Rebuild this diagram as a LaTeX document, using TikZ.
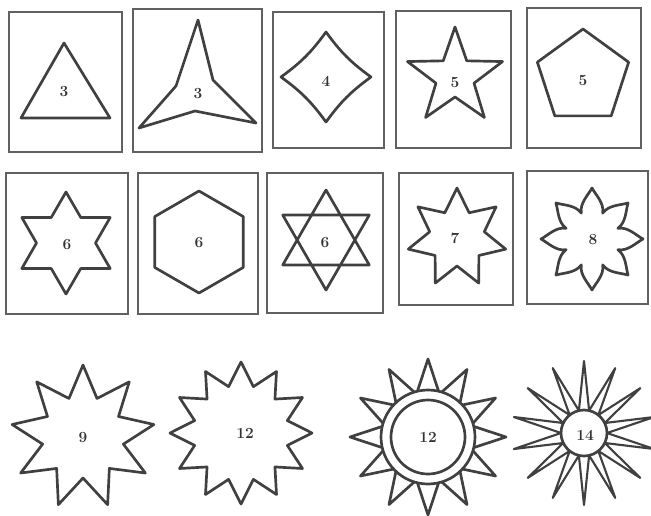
\documentclass[tikz,border=0pt]{standalone}
\tikzset{
  card/.style={draw=black!62, line width=1pt},
  figline/.style={draw=black!75, line width=1.9pt, line join=round},
  num/.style={font=\bfseries\fontsize{11}{12}\selectfont, text=black!80, inner sep=1pt},
}
\newcommand{\starpath}[3]{(-90:#2) \foreach \k in {1,...,#1} { -- ({-90+(\k-0.5)*360/#1}:#3) -- ({-90+\k*360/#1}:#2) } -- cycle}
\newcommand{\polypath}[2]{(-90:#2) \foreach \k in {1,...,#1} { -- ({-90+\k*360/#1}:#2) } -- cycle}
\begin{document}
\begin{tikzpicture}[x=0.025cm, y=-0.025cm]
\useasboundingbox (0,0) rectangle (651,515);

\draw[card] (9,12) rectangle (122,152);
\draw[card] (133,9) rectangle (262,152);
\draw[card] (273,12) rectangle (384,148);
\draw[card] (396,11) rectangle (511,148);
\draw[card] (527,8) rectangle (641,148);
\draw[card] (6,173) rectangle (128,314);
\draw[card] (138,173) rectangle (258,314);
\draw[card] (267,173) rectangle (383,313);
\draw[card] (399,173) rectangle (513,305);
\draw[card] (527,171) rectangle (648,304);

\draw[figline] (64,43) -- (110,118) -- (21,118) -- cycle;
\draw[figline] (198,20) -- (213,80) -- (256,123) -- (195,111) -- (139,128) -- (176,86) -- cycle;
\draw[figline, shift={(326,77)}] (-90:45) \foreach \k in {1,...,4} { to[bend right=9] ({-90+\k*90}:45) } -- cycle;
\draw[figline, shift={(455,77)}] \starpath{5}{50}{20};
\draw[figline, shift={(583,77)}] \polypath{5}{48};

\draw[figline, shift={(66,243)}] \starpath{6}{51}{29.5};
\draw[figline, shift={(199,242)}] \polypath{6}{51};
\draw[figline, shift={(326,240)}] (-90:50) -- (30:50) -- (150:50) -- cycle (90:50) -- (210:50) -- (330:50) -- cycle;
\draw[figline, shift={(457,238)}] \starpath{7}{50}{28};
\draw[figline, shift={(592,239)}] (-112.5:28) \foreach \a in {-90,-45,...,225} { .. controls ({\a-19}:38) and ({\a-5}:44) .. (\a:51) .. controls ({\a+5}:44) and ({\a+19}:38) .. ({\a+22.5}:28) } -- cycle;

\draw[figline, shift={(83,437)}] \starpath{9}{72}{41};
\draw[figline, shift={(241,433)}] \starpath{12}{71}{48};
\draw[figline, shift={(428,437)}] (0,0) circle[radius=47] (0,0) circle[radius=37];
\foreach \a in {0,30,...,330}
  \draw[figline, shift={(428,437)}] (\a-13:47) -- (\a:78) -- (\a+13:47);
\draw[figline, shift={(584,433)}] (0,0) circle[radius=23];
\draw[figline, line width=1.5pt, shift={(584,433)}] \starpath{14}{72}{23};

\node[num] (tri) at (64,92) {3};
\node[num] (star3) at (198,94) {3};
\node[num] (star4) at (326,81) {4};
\node[num] (star5) at (455,83) {5};
\node[num] (penta) at (583,81) {5};
\node[num] (star6) at (67,245) {6};
\node[num] (hexa) at (199,243) {6};
\node[num] (hexagram) at (325,243) {6};
\node[num] (star7) at (455,238) {7};
\node[num] (flower8) at (593,240) {8};
\node[num] (star9) at (83,438) {9};
\node[num] (star12) at (245,433) {12};
\node[num] (sun12) at (428,437) {12};
\node[num] (sun14) at (585,435) {14};
\end{tikzpicture}
\end{document}
